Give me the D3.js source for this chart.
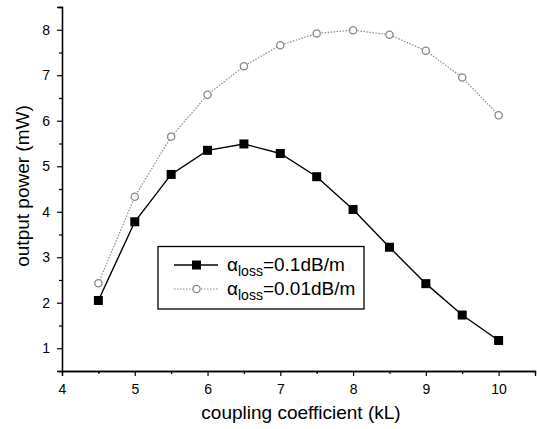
<!DOCTYPE html>
<html>
<head>
<script src="https://d3js.org/d3.v7.min.js"></script>
<style>
  body { margin: 0; background: #fff; }
  svg { display: block; font-family: Arial, "Liberation Sans", sans-serif; }
</style>
</head>
<body>
<svg id="chart" width="537" height="429"></svg>
<script>
const kL = [4.5, 5, 5.5, 6, 6.5, 7, 7.5, 8, 8.5, 9, 9.5, 10];
const powerLoss01 = [2.05, 3.78, 4.82, 5.35, 5.49, 5.28, 4.77, 4.05, 3.22, 2.42, 1.73, 1.17];
const powerLoss001 = [2.43, 4.33, 5.65, 6.57, 7.2, 7.66, 7.92, 7.99, 7.89, 7.54, 6.95, 6.12];
const xTicks = [4, 5, 6, 7, 8, 9, 10];
const yTicks = [1, 2, 3, 4, 5, 6, 7, 8];

const svg = d3.select("#chart");
const plotL = 62, plotR = 535, plotT = 7, plotB = 371;

const x = d3.scaleLinear().domain([4, 10.5]).range([plotL, plotR]);
const y = d3.scaleLinear().domain([0.5, 8.5]).range([plotB, plotT]);

// x axis
const gx = svg.append("g").attr("transform", `translate(0,${plotB})`);
gx.call(d3.axisBottom(x).tickValues(xTicks).tickSize(5).tickPadding(8).tickFormat(d3.format("d")));
gx.append("g").call(d3.axisBottom(x).tickValues(d3.range(4.5, 10.5, 1)).tickSize(3).tickFormat(""));

// y axis
const gy = svg.append("g").attr("transform", `translate(${plotL},0)`);
gy.call(d3.axisLeft(y).tickValues(yTicks).tickSize(5).tickPadding(7).tickFormat(d3.format("d")));
gy.append("g").call(d3.axisLeft(y).tickValues(d3.range(1.5, 8.5, 1)).tickSize(3).tickFormat(""));

svg.selectAll(".domain").attr("stroke", "#000").attr("stroke-width", 1.3);
svg.selectAll(".tick line").attr("stroke", "#000").attr("stroke-width", 1.2);
svg.selectAll(".tick text").attr("font-size", 14).attr("fill", "#000")
  .attr("font-family", "Arial, 'Liberation Sans', sans-serif");

// axis titles
svg.append("text").attr("x", 301).attr("y", 419)
  .attr("text-anchor", "middle").attr("font-size", 19).text("coupling coefficient (kL)");
svg.append("text").attr("transform", "translate(29,186) rotate(-90)")
  .attr("text-anchor", "middle").attr("font-size", 19).text("output power (mW)");

const line = d3.line().x((d, i) => x(kL[i])).y(d => y(d));

// dotted series
svg.append("path").datum(powerLoss001).attr("d", line)
  .attr("fill", "none").attr("stroke", "#888").attr("stroke-width", 1.2).attr("stroke-dasharray", "1.5,1.5");
svg.selectAll("circle.s2").data(powerLoss001).enter().append("circle")
  .attr("cx", (d, i) => x(kL[i])).attr("cy", d => y(d)).attr("r", 3.6)
  .attr("fill", "#fff").attr("stroke", "#888").attr("stroke-width", 1.3);

// solid series
svg.append("path").datum(powerLoss01).attr("d", line)
  .attr("fill", "none").attr("stroke", "#000").attr("stroke-width", 1.4);
svg.selectAll("rect.s1").data(powerLoss01).enter().append("rect")
  .attr("x", (d, i) => x(kL[i]) - 4.5).attr("y", d => y(d) - 4.5)
  .attr("width", 9).attr("height", 9).attr("fill", "#000");

// legend
const lg = svg.append("g");
lg.append("rect").attr("x", 158).attr("y", 246.5).attr("width", 206).attr("height", 62.5)
  .attr("fill", "#fff").attr("stroke", "#000").attr("stroke-width", 1.3);
const entries = [
  { label: "=0.1dB/m", yy: 265, solid: true },
  { label: "=0.01dB/m", yy: 289, solid: false }
];
entries.forEach(e => {
  lg.append("line").attr("x1", 174).attr("x2", 218).attr("y1", e.yy).attr("y2", e.yy)
    .attr("stroke", e.solid ? "#000" : "#888").attr("stroke-width", e.solid ? 1.4 : 1.2)
    .attr("stroke-dasharray", e.solid ? null : "1.5,1.5");
  if (e.solid) {
    lg.append("rect").attr("x", 192).attr("y", e.yy - 4.5).attr("width", 9).attr("height", 9).attr("fill", "#000");
  } else {
    lg.append("circle").attr("cx", 196.5).attr("cy", e.yy).attr("r", 3.6)
      .attr("fill", "#fff").attr("stroke", "#888").attr("stroke-width", 1.3);
  }
  const t = lg.append("text").attr("x", 227).attr("y", e.yy + 6).attr("font-size", 19);
  t.append("tspan").text("α");
  t.append("tspan").attr("font-size", 14).attr("dy", 5).text("loss");
  t.append("tspan").attr("dy", -5).text(e.label);
});
</script>
</body>
</html>
